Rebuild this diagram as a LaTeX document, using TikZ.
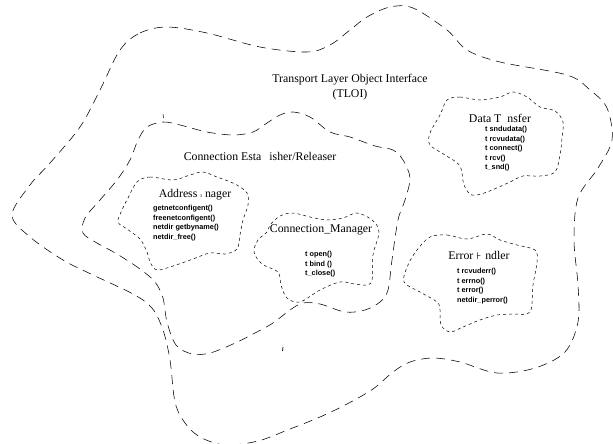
\documentclass[tikz,border=0pt]{standalone}
\usepackage{fontspec}
\setmainfont{Liberation Serif}
\newfontfamily\itemfont{Liberation Sans}
\newfontfamily\symfont{DejaVu Sans}
\begin{document}
\begin{tikzpicture}[x=1pt,y=-1pt,
  bigblob/.style={draw=black, line width=0.55pt, dash pattern=on 9pt off 6pt},
  smallblob/.style={draw=black, line width=0.5pt, dash pattern=on 3pt off 3pt},
  title/.style={font=\fontsize{11.8}{14.5}\selectfont, inner sep=0pt, align=center},
  items/.style={font=\itemfont\bfseries\fontsize{7.3}{9.6}\selectfont, inner sep=0pt, align=left, anchor=north west}]
\useasboundingbox (0,0) rectangle (613,444);
% outer blob (TLOI)
\draw[bigblob] plot[smooth cycle, tension=0.55] coordinates {
 (120,50) (140,33) (167,27) (207,33) (260,47) (307,52) (330,45) (350,30) (367,17) (390,7) (413,8) (447,30)
 (467,50) (500,62) (567,75) (590,90) (607,108) (612,140) (598,168) (578,198) (574,240) (578,285) (578,322)
 (565,352) (535,368) (497,373) (460,362) (433,358) (410,362) (393,372) (373,389) (347,404) (320,417)
 (290,429) (258,441) (225,445) (200,437) (185,423) (175,402) (170,360) (163,330) (152,308) (133,294)
 (93,275) (63,260) (30,237) (12,215) (30,185) (50,163) (80,127) (100,90)};
% connection establisher blob
\draw[bigblob] plot[smooth cycle, tension=0.55] coordinates {
 (147,127) (163,122) (180,125) (207,132) (233,135) (253,132) (267,123) (280,115) (293,112) (310,117)
 (330,132) (350,137) (375,146) (393,150) (403,160) (410,178) (405,200) (398,220) (392,260) (388,290)
 (380,302) (365,310) (345,312) (320,304) (303,303) (290,310) (273,323) (255,333) (233,344) (210,353)
 (192,354) (176,345) (167,322) (163,298) (155,282) (140,269) (117,254) (97,243) (83,233) (85,218)
 (100,200) (117,180) (130,160) (138,140)};
% address manager blob
\draw[smallblob] plot[smooth cycle, tension=0.55] coordinates {
 (137,182) (150,177) (173,180) (190,175) (203,172) (217,177) (235,184) (247,193) (248,205) (243,220)
 (240,235) (237,249) (225,254) (210,253) (193,259) (173,266) (157,270) (150,262) (147,252) (140,239)
 (127,229) (118,222) (122,210) (128,198)};
% connection manager blob
\draw[smallblob] plot[smooth cycle, tension=0.55] coordinates {
 (270,225) (280,216) (293,213) (310,217) (327,220) (343,218) (357,213) (372,220) (379,232) (373,255)
 (371,283) (355,284) (340,282) (320,290) (300,302) (287,298) (281,285) (278,272) (262,264) (254,252)
 (258,240) (267,232)};
% data transfer blob
\draw[smallblob] plot[smooth cycle, tension=0.55] coordinates {
 (447,100) (460,97) (480,100) (500,97) (513,92) (527,97) (540,107) (555,111) (563,122) (562,138)
 (560,155) (555,172) (540,176) (523,176) (510,182) (487,192) (472,195) (464,185) (460,166) (445,155)
 (430,145) (430,133) (440,115)};
% error handler blob
\draw[smallblob] plot[smooth cycle, tension=0.55] coordinates {
 (430,237) (447,235) (467,239) (487,234) (500,240) (517,245) (535,250) (537,262) (533,285) (530,312)
 (513,314) (497,315) (480,320) (463,327) (450,332) (441,325) (440,310) (437,302) (420,292) (404,282)
 (408,265) (417,250)};
% specks
\draw[line width=0.7pt] (283,347) -- (282.5,351);
\draw[line width=0.5pt] (163,114) -- (163.5,118);
% labels
\node[title] (tloi) at (350,87) {Transport Layer Object Interface\\(TLOI)};
\node[title] (ce) at (260,156) {Connection Esta\hspace{8pt}isher/Releaser};
\node[title] (am) at (195,195) {Address {\fontsize{6}{6}\selectfont ı}\hspace{3pt}nager};
\node[items] (amitems) at (153,205) {getnetconfigent()\\freenetconfigent()\\netdir getbyname()\\netdir\_free()};
\node[title] (cm) at (321,230) {Connection\_Manager};
\node[items] (cmitems) at (305,251) {t open()\\t bind ()\\t\_close()};
\node[title] (dt) at (500,118) {Data T\hspace{6pt}nsfer};
\node[items] (dtitems) at (485,126) {t sndudata()\\t rcvudata()\\t connect()\\t rcv()\\t\_snd()};
\node[title] (eh) at (479,255) {Error {\symfont\fontsize{9.5}{9.5}\selectfont ⊦}\hspace{4pt}ndler};
\node[items] (ehitems) at (457,268) {t rcvuderr()\\t errno()\\t error()\\netdir\_perror()};
\end{tikzpicture}
\end{document}
